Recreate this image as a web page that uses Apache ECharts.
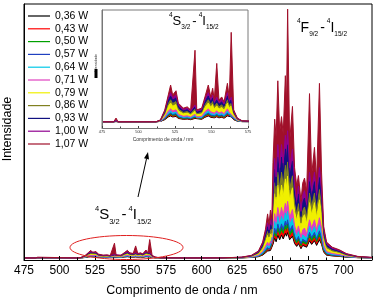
<!DOCTYPE html>
<html><head><meta charset="utf-8">
<script src="https://cdn.jsdelivr.net/npm/echarts@6/dist/echarts.min.js"></script>
<style>html,body{margin:0;padding:0;background:#fff}#c{width:374px;height:300px}</style>
</head><body><div id="c"></div>
<script>
// ---- data ----
const wavelengths = [475,483,484.6,486,512,515,518,520.4,522,523.4,525.7,527.3,530.7,533.4,535.7,538.7,539.9,543.3,545.5,547.8,549.5,550.8,551.9,553.6,555.1,557,558.6,560.9,562.2,563.5,565.2,567.7,571,590,615,628,635,640,643,645,646.5,647.5,648.5,649.5,650.3,651.5,652.5,653.7,655,656.3,657.5,659,659.8,660.6,662,664,665.5,667,668.2,670,671.2,672.5,674,676,677.5,679.5,681,683,684.5,686,688,692,697,702,710,720];
const seriesNames = ['0,36 W','0,43 W','0,50 W','0,57 W','0,64 W','0,71 W','0,79 W','0,86 W','0,93 W','1,00 W','1,07 W'];
const int036 = [0.8,0.8,0.82,0.8,0.8, 0.83,0.97,1.19,1.27,1.19, 1.23,1.07,1.0,1.02,0.97, 1.07,0.97,1.0,1.16,1.27, 1.16,1.23,1.12,1.2,1.12, 1.16,1.09,1.27,1.14,1.2, 0.97,0.85,0.81,0.8,0.81, 0.85,0.98,1.29,1.9,2.8, 3.5,3.0,3.7,3.4,6.1, 8.6,7.1,9.7,7.9,9.7, 8.2,10.4,9.3,10.7,7.9, 9.3,6.4,5.3,6.4,4.4, 5.7,6.1,5.0,7.5,6.1, 7.5,5.7,7.9,6.1,3.0, 1.9,1.6,1.4,1.1,0.91,0.84];
const int043 = [0.8,0.8,0.82,0.8,0.8, 0.83,1.0,1.25,1.35,1.25, 1.3,1.12,1.03,1.05,1.0, 1.12,1.0,1.03,1.22,1.35, 1.22,1.3,1.17,1.26,1.17, 1.22,1.14,1.35,1.2,1.26, 1.0,0.86,0.82,0.8,0.81, 0.86,1.01,1.37,2.1,3.2, 4.0,3.4,4.2,3.8,6.9, 9.9,8.2,11.1,9.0,11.1, 9.5,12.0,10.7,12.4,9.0, 10.7,7.4,6.1,7.4,5.0, 6.5,6.9,5.7,8.6,6.9, 8.6,6.5,9.0,6.9,3.4, 2.1,1.7,1.5,1.16,0.93,0.84];
const int050 = [0.8,0.8,0.82,0.8,0.8, 0.84,1.03,1.32,1.42,1.32, 1.38,1.16,1.06,1.09,1.03, 1.16,1.03,1.06,1.28,1.42, 1.28,1.38,1.22,1.33,1.22, 1.28,1.18,1.42,1.26,1.33, 1.03,0.87,0.82,0.8,0.81, 0.87,1.04,1.45,2.3,3.5, 4.4,3.7,4.7,4.2,7.8, 11.2,9.2,12.6,10.2,12.6, 10.7,13.6,12.1,14.0,10.2, 12.1,8.3,6.8,8.3,5.6, 7.3,7.8,6.4,9.7,7.8, 9.7,7.3,10.2,7.8,3.7, 2.3,1.8,1.6,1.21,0.94,0.85];
const int057 = [0.8,0.8,0.83,0.8,0.8, 0.84,1.06,1.38,1.5,1.38, 1.45,1.21,1.1,1.12,1.06, 1.21,1.06,1.1,1.34,1.5, 1.34,1.45,1.28,1.39,1.28, 1.34,1.23,1.5,1.31,1.39, 1.06,0.88,0.82,0.8,0.81, 0.88,1.07,1.53,2.5,3.8, 4.9,4.1,5.2,4.6,8.7, 12.5,10.3,14.1,11.4,14.1, 11.9,15.2,13.5,15.7,11.4, 13.5,9.2,7.6,9.2,6.3, 8.1,8.7,7.1,10.8,8.7, 10.8,8.1,11.4,8.7,4.1, 2.5,1.9,1.7,1.26,0.96,0.85];
const int064 = [0.8,0.8,0.83,0.8,0.8, 0.85,1.12,1.51,1.66,1.51, 1.59,1.3,1.16,1.2,1.12, 1.3,1.12,1.16,1.46,1.66, 1.46,1.59,1.38,1.53,1.38, 1.46,1.33,1.66,1.43,1.53, 1.12,0.9,0.83,0.8,0.82, 0.9,1.13,1.69,2.8,4.5, 5.8,4.8,6.1,5.5,10.4, 15.1,12.4,17.0,13.7,17.0, 14.4,18.4,16.4,19.0,13.7, 16.4,11.1,9.1,11.1,7.5, 9.8,10.4,8.5,13.1,10.4, 13.1,9.8,13.7,10.4,4.8, 2.8,2.2,1.9,1.36,1.0,0.87];
const int071 = [0.8,0.8,0.84,0.8,0.8, 0.86,1.18,1.66,1.84,1.66, 1.76,1.4,1.24,1.28,1.18, 1.4,1.18,1.24,1.6,1.84, 1.6,1.76,1.5,1.68,1.5, 1.6,1.44,1.84,1.56,1.68, 1.18,0.92,0.83,0.8,0.82, 0.92,1.2,1.88,3.3,5.3, 6.9,5.7,7.3,6.5,12.5, 18.1,14.9,20.5,16.5,20.5, 17.3,22.1,19.7,22.9,16.5, 19.7,13.3,10.9,13.3,8.9, 11.7,12.5,10.1,15.7,12.5, 15.7,11.7,16.5,12.5,5.7, 3.3,2.5,2.1,1.48,1.04,0.88];
const int079 = [0.8,0.8,0.86,0.8,0.8, 0.89,1.36,2.05,2.31,2.05, 2.19,1.67,1.44,1.5,1.36, 1.67,1.36,1.44,1.96,2.31, 1.96,2.19,1.82,2.08,1.82, 1.96,1.73,2.31,1.9,2.08, 1.36,0.97,0.85,0.8,0.83, 0.97,1.38,2.37,4.4,7.3, 9.6,7.9,10.2,9.0,17.7, 25.9,21.2,29.3,23.5,29.3, 24.7,31.7,28.2,32.8,23.5, 28.2,18.9,15.4,18.9,12.5, 16.6,17.7,14.3,22.4,17.7, 22.4,16.6,23.5,17.7,7.9, 4.4,3.2,2.7,1.79,1.15,0.92];
const int086 = [0.8,0.8,0.87,0.8,0.8, 0.9,1.45,2.27,2.57,2.27, 2.43,1.82,1.55,1.62,1.45, 1.82,1.45,1.55,2.16,2.57, 2.16,2.43,2.0,2.3,2.0, 2.16,1.89,2.57,2.09,2.3, 1.45,1.0,0.85,0.8,0.83, 1.0,1.48,2.64,5.0,8.4, 11.1,9.1,11.8,10.5,20.7, 30.2,24.7,34.3,27.5,34.3, 28.8,37.0,32.9,38.3,27.5, 32.9,22.0,17.9,22.0,14.5, 19.3,20.7,16.6,26.1,20.7, 26.1,19.3,27.5,20.7,9.1, 5.0,3.7,3.0,1.96,1.21,0.94];
const int093 = [0.8,0.8,0.88,0.8,0.8, 0.92,1.57,2.53,2.88,2.53, 2.72,2.0,1.68,1.76,1.57, 2.0,1.57,1.68,2.4,2.88, 2.4,2.72,2.21,2.56,2.21, 2.4,2.08,2.88,2.32,2.56, 1.57,1.04,0.86,0.8,0.84, 1.04,1.6,2.96,5.8,9.8, 13.0,10.6,13.8,12.2,24.2, 35.4,29.0,40.2,32.2,40.2, 33.8,43.4,38.6,45.0,32.2, 38.6,25.8,21.0,25.8,17.0, 22.6,24.2,19.4,30.6,24.2, 30.6,22.6,32.2,24.2,10.6, 5.8,4.2,3.4,2.16,1.28,0.96];
const int100 = [0.8,0.8,0.89,0.8,0.8, 0.94,1.66,2.74,3.14,2.74, 2.96,2.15,1.79,1.88,1.66, 2.15,1.66,1.79,2.6,3.14, 2.6,2.96,2.38,2.78,2.38, 2.6,2.24,3.14,2.51,2.78, 1.66,1.07,0.87,0.8,0.85, 1.07,1.7,3.23,6.4,10.9, 14.5,11.8,15.4,13.6,27.1, 39.7,32.5,45.1,36.1,45.1, 37.9,48.7,43.3,50.5,36.1, 43.3,28.9,23.5,28.9,19.0, 25.3,27.1,21.7,34.3,27.1, 34.3,25.3,36.1,27.1,11.8, 6.4,4.6,3.7,2.33,1.34,0.98];
const int107 = [0.8,0.8,1.1,0.8,0.8, 0.95,1.76,2.96,3.76,2.96, 3.3,2.3,1.9,2.0,1.76, 6.56,1.76,1.9,2.8,3.76, 2.8,3.5,2.56,5.5,2.56, 2.8,2.4,3.9,2.7,8.0, 1.76,1.1,0.88,0.8,0.85, 1.1,1.8,3.5,7,12, 18,14,19.5,16,38, 55,48,70,50,56, 49,72,60,98,46, 60,36,29,33,23, 30,32,27,65,33, 44,31,69,34,13, 7,5,4,2.5,1.4,1.0];

// ---- styling ----
const FF = "'Liberation Sans', Arial, sans-serif";
const colors = ['#000000','#ff0000','#00a000','#2040c0','#00c8e8','#e040c0','#f0f000','#808020','#101080','#900090','#a0102a'];
const allSeries = [int036,int043,int050,int057,int064,int071,int079,int086,int093,int100,int107];
function pts(v){ return wavelengths.map((x,i)=>[x, v[i]]); }

const series = [];
[0,1].forEach(g=>{
  for (let k=10;k>=0;k--){
    series.push({type:'line', name:'fill'+g+'_'+k, xAxisIndex:g, yAxisIndex:g, data:pts(allSeries[k]),
      symbol:'none', silent:true, animation:false, z:2,
      lineStyle:{width:0, opacity:0},
      areaStyle:{color: k===0 ? '#ffffff' : colors[k], opacity:1, origin:'start'}});
  }
  for (let k=0;k<=10;k++){
    series.push({type:'line', name:seriesNames[k], xAxisIndex:g, yAxisIndex:g, data:pts(allSeries[k]),
      symbol:'none', animation:false, z:3, color:colors[k],
      lineStyle:{width:1, color:colors[k]}});
  }
});

function rich(big, small){
  return {
    b:{fontSize:big, fontFamily:FF, fill:'#000', lineHeight:big+6, verticalAlign:'middle'},
    d:{fontSize:big, fontFamily:FF, fill:'#000', lineHeight:big+6, verticalAlign:'middle', padding:[0,2,0,2]},
    p:{fontSize:small, fontFamily:FF, fill:'#000', verticalAlign:'top'},
    s:{fontSize:small, fontFamily:FF, fill:'#000', verticalAlign:'bottom'}
  };
}

const chart = echarts.init(document.getElementById('c'), null, {renderer:'canvas'});
chart.setOption({
  animation:false,
  backgroundColor:'#fff',
  grid:[
    {left:24, right:2, top:4, bottom:40, show:true, borderColor:'#000', borderWidth:1, backgroundColor:'transparent', outerBoundsMode:'none', containLabel:false},
    {left:102, top:10, width:146, height:118, show:true, borderColor:'#7a7a7a', borderWidth:1, backgroundColor:'#fff', outerBoundsMode:'none', containLabel:false}
  ],
  xAxis:[
    {gridIndex:0, type:'value', min:475, max:720, interval:25, z:10,
     axisLine:{lineStyle:{color:'#000', width:1}},
     axisTick:{inside:true, length:4, lineStyle:{color:'#000'}},
     minorTick:{show:true, splitNumber:2, length:2.5, lineStyle:{color:'#000'}},
     splitLine:{show:false}, minorSplitLine:{show:false},
     axisLabel:{color:'#000', fontSize:12, fontFamily:FF, margin:5, showMaxLabel:false}},
    {gridIndex:1, type:'value', min:475, max:575, interval:25, z:10,
     axisLine:{lineStyle:{color:'#777', width:1}},
     axisTick:{inside:true, length:2, lineStyle:{color:'#444'}},
     minorTick:{show:true, splitNumber:2, length:1.5, lineStyle:{color:'#444'}},
     splitLine:{show:false}, minorSplitLine:{show:false},
     axisLabel:{color:'#333', fontSize:4, fontFamily:FF, margin:2}}
  ],
  yAxis:[
    {gridIndex:0, type:'value', min:0, max:100, z:10,
     axisLine:{show:true, lineStyle:{color:'#000', width:1}},
     axisTick:{show:false}, axisLabel:{show:false}, splitLine:{show:false}},
    {gridIndex:1, type:'value', min:0.3, max:9.8, z:10,
     axisLine:{show:true, lineStyle:{color:'#777', width:1}},
     axisTick:{show:false}, axisLabel:{show:false}, splitLine:{show:false}}
  ],
  legend:{data:seriesNames, orient:'vertical', left:28, top:10, padding:0,
    itemWidth:22, itemHeight:1.2, itemGap:0.8, icon:'rect',
    textStyle:{fontSize:10.5, fontFamily:FF, color:'#000', lineHeight:12}},
  series: series,
  graphic:[
    {type:'text', x:182, y:291, z:20, style:{text:'Comprimento de onda / nm', font:'12.5px '+FF, fill:'#000', align:'center', verticalAlign:'middle', textAlign:'center', textVerticalAlign:'middle'}},
    {type:'text', x:8, y:129, rotation:Math.PI/2, z:20, style:{text:'Intensidade', font:'12.5px '+FF, fill:'#000', align:'center', verticalAlign:'middle', textAlign:'center', textVerticalAlign:'middle'}},
    {type:'text', x:163, y:140, z:20, style:{text:'Comprimento de onda / nm', font:'5px '+FF, fill:'#333', align:'center', verticalAlign:'middle', textAlign:'center', textVerticalAlign:'middle'}},
    {type:'text', x:96, y:63, rotation:Math.PI/2, z:20, style:{text:'Intensidade', font:'3.5px '+FF, fill:'#333', align:'center', verticalAlign:'middle', textAlign:'center', textVerticalAlign:'middle'}},
    {type:'rect', z:20, shape:{x:94.5, y:69, width:3, height:9}, style:{fill:'#000'}},
    {type:'text', x:297, y:28, z:20, style:{text:'{p|4}{b|F}{s|9/2}{d|-}{p|4}{b|I}{s|15/2}', rich:rich(14,6.5), align:'left', verticalAlign:'middle', textAlign:'left', textVerticalAlign:'middle'}},
    {type:'text', x:169, y:21, z:20, style:{text:'{p|4}{b|S}{s|3/2}{d|-}{p|4}{b|I}{s|15/2}', rich:rich(13,6.5), align:'left', verticalAlign:'middle', textAlign:'left', textVerticalAlign:'middle'}},
    {type:'text', x:95, y:215, z:20, style:{text:'{p|4}{b|S}{s|3/2}{d|-}{p|4}{b|I}{s|15/2}', rich:rich(15,7.5), align:'left', verticalAlign:'middle', textAlign:'left', textVerticalAlign:'middle'}},
    {type:'line', z:20, shape:{x1:138, y1:197, x2:146.5, y2:158.8}, style:{stroke:'#000', lineWidth:1}},
    {type:'polygon', z:20, shape:{points:[[148,152],[149,159.5],[144,158.3]]}, style:{fill:'#000'}},
    {type:'ellipse', z:20, shape:{cx:126.5, cy:247.5, rx:56.5, ry:12}, style:{stroke:'#e02020', fill:null, lineWidth:1}}
  ]
});
</script>
</body></html>
